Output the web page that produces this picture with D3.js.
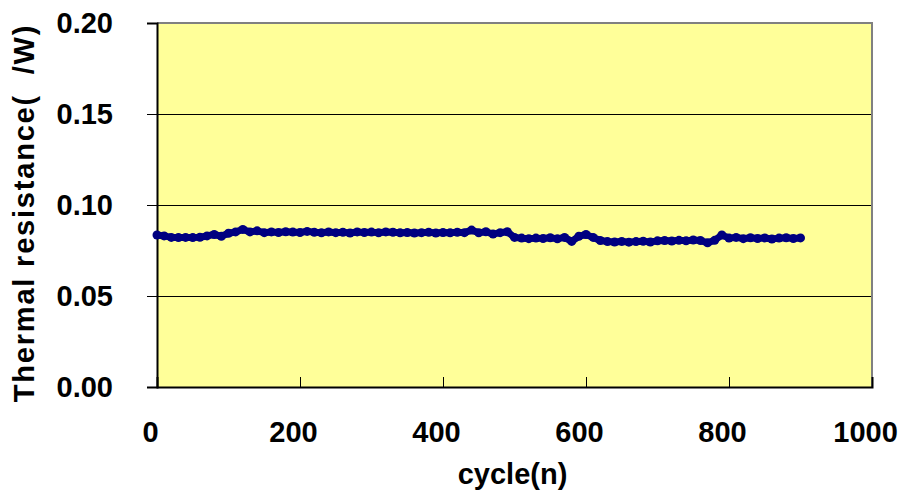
<!DOCTYPE html>
<html>
<head>
<meta charset="utf-8">
<script src="https://cdn.jsdelivr.net/npm/d3@7"></script>
<style>
  html, body { margin: 0; padding: 0; background: #fff; }
  svg { display: block; }
  text { font-family: "Liberation Sans", Arial, sans-serif; font-weight: bold; fill: #000; }
</style>
</head>
<body>
<div id="chart"></div>
<script>
const cycles = [
  0, 10, 20, 30, 40, 50, 60, 70, 80, 90,
  100, 110, 120, 130, 140, 150, 160, 170, 180, 190,
  200, 210, 220, 230, 240, 250, 260, 270, 280, 290,
  300, 310, 320, 330, 340, 350, 360, 370, 380, 390,
  400, 410, 420, 430, 440, 450, 460, 470, 480, 490,
  500, 510, 520, 530, 540, 550, 560, 570, 580, 590,
  600, 610, 620, 630, 640, 650, 660, 670, 680, 690,
  700, 710, 720, 730, 740, 750, 760, 770, 780, 790,
  800, 810, 820, 830, 840, 850, 860, 870, 880, 890, 900
];
const resistance = [
  0.0835, 0.0830, 0.0822, 0.0821, 0.0822, 0.0821, 0.0823, 0.0830, 0.0838, 0.0828,
  0.0845, 0.0852, 0.0866, 0.0852, 0.0858, 0.0848, 0.0852, 0.0849, 0.0853, 0.0851,
  0.0849, 0.0855, 0.0850, 0.0847, 0.0852, 0.0848, 0.0850, 0.0846, 0.0852, 0.0849,
  0.0851, 0.0847, 0.0852, 0.0850, 0.0847, 0.0849, 0.0846, 0.0848, 0.0850, 0.0846,
  0.0849, 0.0847, 0.0850, 0.0848, 0.0862, 0.0847, 0.0853, 0.0840, 0.0848, 0.0853,
  0.0822, 0.0818, 0.0815, 0.0818, 0.0816, 0.0820, 0.0814, 0.0822, 0.0800, 0.0828,
  0.0838, 0.0822, 0.0805, 0.0799, 0.0797, 0.0800, 0.0796, 0.0799, 0.0801, 0.0797,
  0.0803, 0.0805, 0.0802, 0.0806, 0.0803, 0.0808, 0.0805, 0.0792, 0.0806, 0.0835,
  0.0818, 0.0822, 0.0815, 0.0820, 0.0816, 0.0819, 0.0813, 0.0818, 0.0820, 0.0816, 0.0819
];
const xTicks = [0, 200, 400, 600, 800, 1000];
const yTicks = [0, 0.05, 0.10, 0.15, 0.20];
const xTitle = "cycle(n)";
const yTitle = "Thermal resistance(\u00a0\u00a0/W)";

const width = 904;
const height = 491;
const plot = { left: 157, right: 872, top: 23, bottom: 387 };

const x = d3.scaleLinear().domain([0, 1000]).range([plot.left, plot.right]);
const y = d3.scaleLinear().domain([0, 0.20]).range([plot.bottom, plot.top]);

const svg = d3.select("#chart")
  .append("svg")
  .attr("width", width)
  .attr("height", height);

// plot area
svg.append("rect")
  .attr("x", plot.left)
  .attr("y", plot.top)
  .attr("width", plot.right - plot.left)
  .attr("height", plot.bottom - plot.top)
  .attr("fill", "#ffff99");

// gridlines
svg.append("g")
  .selectAll("line")
  .data(yTicks.filter(d => d > 0 && d < 0.2))
  .join("line")
  .attr("x1", plot.left)
  .attr("x2", plot.right)
  .attr("y1", d => Math.round(y(d)) + 0.5)
  .attr("y2", d => Math.round(y(d)) + 0.5)
  .attr("stroke", "#000")
  .attr("stroke-width", 1);

// top + right border (grey)
svg.append("path")
  .attr("d", `M${plot.left},${plot.top} H${plot.right} V${plot.bottom}`)
  .attr("fill", "none")
  .attr("stroke", "#808080")
  .attr("stroke-width", 2);

// y axis, ticks outward
const yAxis = d3.axisLeft(y)
  .tickValues(yTicks)
  .tickSize(10)
  .tickPadding(34)
  .tickFormat(d3.format(".2f"));

svg.append("g")
  .attr("transform", `translate(${plot.left},0)`)
  .call(yAxis)
  .call(g => g.select(".domain").attr("stroke", "#000").attr("stroke-width", 2))
  .call(g => g.selectAll(".tick line").attr("stroke", "#000"))
  .call(g => g.selectAll(".tick text")
    .attr("font-size", 29)
    .attr("font-family", "Liberation Sans, Arial, sans-serif")
    .attr("font-weight", "bold"));

// x axis, ticks inward
const xAxis = d3.axisBottom(x)
  .tickValues(xTicks)
  .tickSize(-10)
  .tickPadding(0)
  .tickFormat(d3.format("d"));

svg.append("g")
  .attr("transform", `translate(0,${plot.bottom})`)
  .call(xAxis)
  .call(g => g.select(".domain").attr("stroke", "#000").attr("stroke-width", 2))
  .call(g => g.selectAll(".tick line").attr("stroke", "#000"))
  .call(g => g.selectAll(".tick text")
    .attr("dy", null)
    .attr("x", -7)
    .attr("y", 55)
    .attr("font-size", 29)
    .attr("font-family", "Liberation Sans, Arial, sans-serif")
    .attr("font-weight", "bold"));

// series
const points = cycles.map((c, i) => ({ c, v: resistance[i] }));

const line = d3.line()
  .x(d => x(d.c))
  .y(d => y(d.v));

svg.append("path")
  .datum(points)
  .attr("d", line)
  .attr("fill", "none")
  .attr("stroke", "#000080")
  .attr("stroke-width", 7)
  .attr("stroke-linejoin", "round")
  .attr("stroke-linecap", "round");

svg.append("g")
  .selectAll("circle")
  .data(points)
  .join("circle")
  .attr("cx", d => x(d.c))
  .attr("cy", d => y(d.v))
  .attr("r", 4.5)
  .attr("fill", "#000080");

// axis titles
svg.append("text")
  .attr("x", (plot.left + plot.right) / 2 - 2)
  .attr("y", 484)
  .attr("text-anchor", "middle")
  .attr("font-size", 29)
  .text(xTitle);

svg.append("text")
  .attr("transform", `translate(34,${(plot.top + plot.bottom) / 2 + 8}) rotate(-90)`)
  .attr("text-anchor", "middle")
  .attr("font-size", 29)
  .attr("letter-spacing", 1.8)
  .style("white-space", "pre")
  .text(yTitle);
</script>
</body>
</html>
